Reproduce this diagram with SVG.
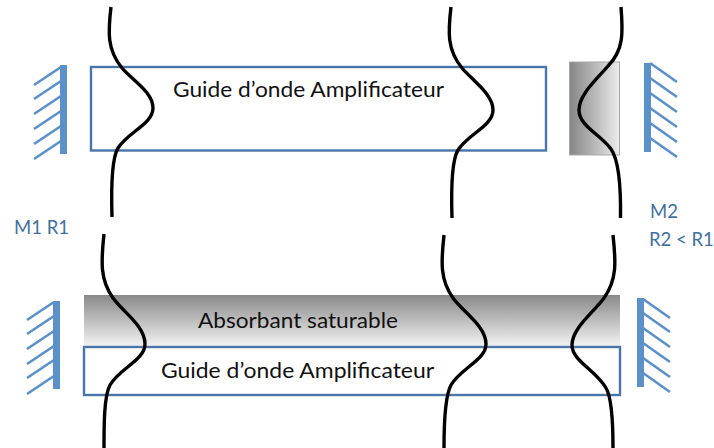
<svg xmlns="http://www.w3.org/2000/svg" width="714" height="448" viewBox="0 0 714 448">
<style>
.guide{fill:none;stroke:#4a76a8;stroke-width:2.4}
.bar{fill:#5b90c8}
.hatch{fill:none;stroke:#5b90c8;stroke-width:2.6}
.wave{fill:none;stroke:#000;stroke-width:3.4}
.t{font-family:Lato,"Liberation Sans",sans-serif;font-size:22px;fill:#111}
.l{font-family:Lato,"Liberation Sans",sans-serif;font-size:18.500px;fill:#44709f}
</style>
<defs>
<linearGradient id="gh" x1="0" y1="0" x2="1" y2="0"><stop offset="0" stop-color="#858585"/><stop offset="1" stop-color="#ececec"/></linearGradient>
<linearGradient id="gv" x1="0" y1="0" x2="0" y2="1"><stop offset="0" stop-color="#898989"/><stop offset="1" stop-color="#f4f4f4"/></linearGradient>
</defs>
<rect width="714" height="448" fill="#fff"/>
<g id="gain-top"><rect class="guide" x="91" y="67" width="455" height="83.500"/><text class="t" x="173" y="97" textLength="271" lengthAdjust="spacingAndGlyphs">Guide d’onde Amplificateur</text></g>
<g id="absorber-top"><rect x="569.500" y="62" width="50" height="93" fill="url(#gh)" stroke="#a8a8a8"/></g>
<g id="absorber-bottom"><rect x="84" y="295" width="536" height="52" fill="url(#gv)"/><text class="t" x="198" y="328" textLength="200" lengthAdjust="spacingAndGlyphs">Absorbant saturable</text></g>
<g id="gain-bottom"><rect class="guide" x="84" y="347" width="536" height="48"/><text class="t" x="161" y="378" textLength="273" lengthAdjust="spacingAndGlyphs">Guide d’onde Amplificateur</text></g>
<g id="mirror-m1-top"><rect class="bar" x="60" y="65" width="7" height="89"/><path class="hatch" d="M61,67L34,85M61,81L34,99M61,96L34,114M61,111L34,129M61,126L34,144M61,141L34,159"/></g>
<g id="mirror-m2-top"><rect class="bar" x="644" y="63" width="7" height="89"/><path class="hatch" d="M650,63L677,82M650,78L677,97M650,93L677,112M650,108L677,127M650,123L677,142M650,138L677,157"/></g>
<g id="mirror-m1-bottom"><rect class="bar" x="53" y="301" width="7" height="88"/><path class="hatch" d="M54,302L27,320M54,316L27,334M54,331L27,349M54,346L27,364M54,360L27,378M54,376L27,394"/></g>
<g id="mirror-m2-bottom"><rect class="bar" x="637" y="298" width="7" height="89"/><path class="hatch" d="M643,299L670,318M643,313L670,332M643,328L670,347M643,343L670,362M643,358L670,377M643,373L670,392"/></g>
<g id="labels"><text class="l" x="14" y="234">M1 R1</text><text class="l" x="650" y="218">M2</text><text class="l" x="649" y="246">R2 &lt; R1</text></g>
<g id="connectors">
<path class="wave" d="M111,7C108,32 107,50 122,68C132,80 153,92 153,108C153,124 128,132 118,148C112,158 111,185 112,217"/>
<path class="wave" d="M451,7C448,32 447,50 462,68C472,80 493,94 493,110C493,126 468,134 458,150C452,160 451,187 452,218"/>
<path class="wave" d="M621,7C623,32 624,50 608,66C598,78 579,94 579,110C579,126 600,134 611,149C618,159 621,185 620.500,218"/>
<path class="wave" d="M104,234C101,262 100,280 113,298C123,312 145,326 145,344C145,360 120,368 110,385C104,396 104,425 104,448"/>
<path class="wave" d="M444,235C441,262 440,280 453,298C463,312 486,326 486,344C486,360 461,368 451,385C445,396 444,425 444,448"/>
<path class="wave" d="M613,235C616,262 617,280 604,298C594,312 572,328 572,345C572,361 596,370 606,388C612,398 613,425 613,448"/>
</g>
</svg>
